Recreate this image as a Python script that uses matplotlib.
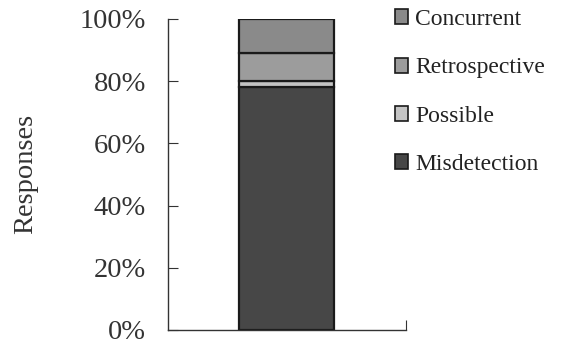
import matplotlib
matplotlib.use("Agg")
import matplotlib.pyplot as plt
from matplotlib.patches import Patch

categories = ["Misdetection", "Possible", "Retrospective", "Concurrent"]
values = [78, 2, 9, 11]
colors = ["#474747", "#c4c4c4", "#9c9c9c", "#8a8a8a"]
yticks = [0, 20, 40, 60, 80, 100]
ytick_labels = ["0%", "20%", "40%", "60%", "80%", "100%"]

plt.rcParams['font.family'] = ['Liberation Serif', 'DejaVu Serif']

fig = plt.figure(figsize=(5.62, 3.43), dpi=100)
ax = fig.add_axes([0.299, 0.038, 0.423, 0.907])

bottom = 0
for cat, v, c in zip(categories, values, colors):
    ax.bar(0.5, v, width=0.4, bottom=bottom, color=c, edgecolor="#1a1a1a", linewidth=1.6, label=cat)
    bottom += v

ax.set_xlim(0, 1)
ax.set_ylim(0, 100)
ax.set_yticks(yticks)
ax.set_yticklabels(ytick_labels, fontsize=20.5, color="#333333")
ax.tick_params(axis="y", direction="in", length=7, pad=16, color="#333333")
ax.set_xticks([1])
ax.set_xticklabels([""])
ax.tick_params(axis="x", direction="in", length=7, color="#333333")
for s in ["top", "right"]:
    ax.spines[s].set_visible(False)
for s in ["left", "bottom"]:
    ax.spines[s].set_color("#333333")
    ax.spines[s].set_linewidth(1.0)
ax.set_ylabel("Responses", fontsize=20.5, color="#333333", labelpad=30)

handles = [Patch(facecolor=c, edgecolor="#1a1a1a", linewidth=1.2) for c in colors]
leg = fig.legend(handles[::-1], categories[::-1], loc="upper left",
                 bbox_to_anchor=(0.665, 1.035), frameon=False, fontsize=17,
                 handlelength=0.55, handleheight=0.6, handletextpad=0.3,
                 labelspacing=1.15)
for t in leg.get_texts():
    t.set_color("#222222")

fig.savefig("out.png", dpi=100)
